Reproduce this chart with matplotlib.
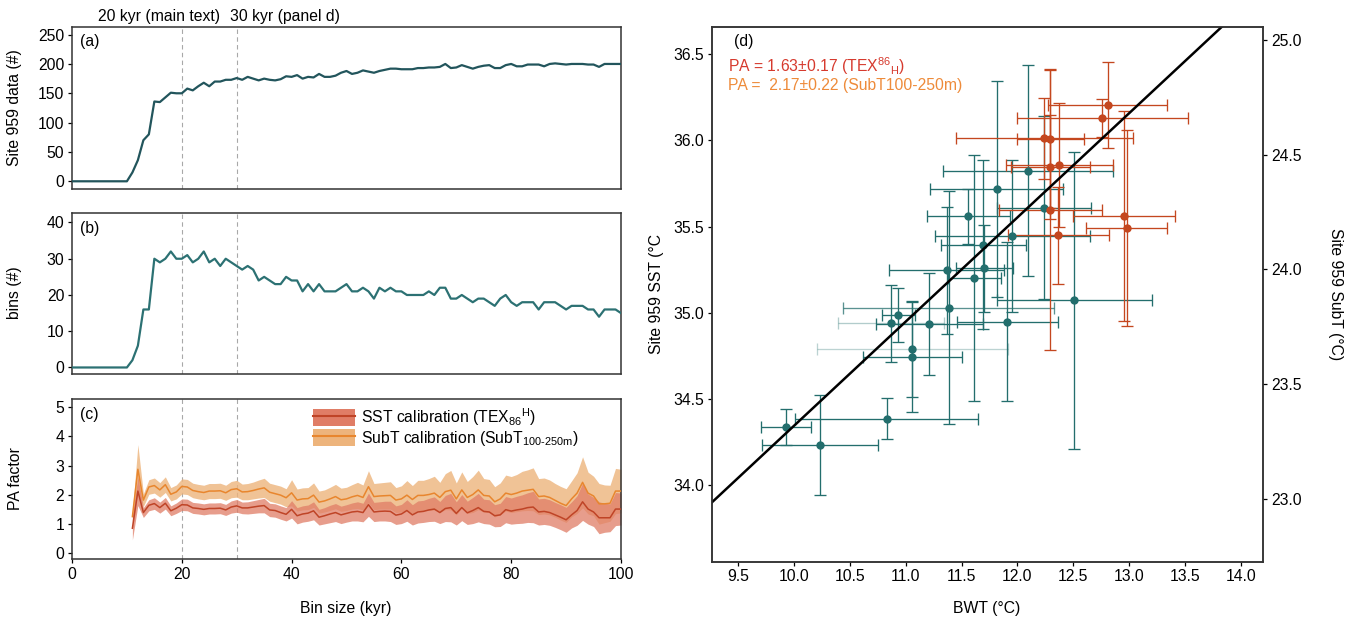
import numpy as np
import matplotlib
matplotlib.use("Agg")
import matplotlib.pyplot as plt
from matplotlib.patches import Patch
from matplotlib.lines import Line2D

plt.rcParams['font.family'] = ['Liberation Sans', 'DejaVu Sans']
plt.rcParams['mathtext.fontset'] = 'custom'
plt.rcParams['mathtext.rm'] = 'Liberation Sans'
plt.rcParams['mathtext.it'] = 'Liberation Sans:italic'
plt.rcParams['mathtext.bf'] = 'Liberation Sans:bold'

# ---------------- data: panels a, b ----------------
bin_size = list(range(0, 101))
site_data = [0, 0, 0, 0, 0, 0, 0, 0, 0, 0, 0,
             15, 36, 70, 80, 136, 135, 143, 151, 150, 150,
             158, 155, 162, 168, 162, 170, 170, 173, 173, 176,
             173, 178, 175, 172, 175, 173, 172, 174, 179, 178,
             181, 175, 178, 177, 183, 178, 178, 180, 185, 188,
             183, 185, 189, 187, 185, 188, 190, 192, 192, 191,
             191, 191, 193, 193, 194, 194, 195, 200, 193, 194,
             198, 195, 192, 195, 197, 198, 193, 193, 198, 200,
             196, 196, 199, 199, 199, 196, 200, 201, 200, 199,
             200, 200, 200, 199, 199, 195, 200, 200, 200, 200]
bins = [0, 0, 0, 0, 0, 0, 0, 0, 0, 0, 0,
        2, 6, 16, 16, 30, 29, 30, 32, 30, 30,
        31, 29, 30, 32, 29, 30, 28, 30, 29, 28,
        27, 28, 27, 24, 25, 24, 23, 23, 25, 24,
        24, 21, 23, 21, 23, 21, 21, 21, 22, 23,
        21, 21, 22, 21, 19, 22, 21, 22, 21, 21,
        20, 20, 20, 20, 21, 20, 22, 22, 19, 19,
        20, 19, 18, 19, 19, 18, 17, 19, 20, 18,
        17, 18, 18, 18, 16, 18, 18, 18, 17, 16,
        17, 17, 17, 16, 16, 14, 16, 16, 16, 15]

# ---------------- data: panel c ----------------
pa_bin = list(range(11, 101))
subt_mid = [1.24, 2.87, 1.81, 2.26, 2.31, 2.16, 2.34, 2.01, 2.09, 2.28,
            2.26, 2.14, 2.10, 2.07, 2.12, 2.12, 2.13, 2.06, 2.17, 2.20,
            2.09, 2.10, 2.14, 2.19, 2.23, 2.08, 2.03, 1.98, 1.89, 2.06,
            1.81, 1.85, 1.86, 1.98, 1.74, 1.78, 1.85, 1.93, 1.82, 1.85,
            1.92, 1.97, 1.90, 2.27, 1.93, 1.95, 1.96, 1.97, 1.81, 1.85,
            1.98, 1.83, 1.97, 1.97, 2.00, 2.05, 1.90, 2.10, 2.15, 1.85,
            2.16, 1.90, 2.00, 2.16, 1.97, 1.95, 1.75, 1.85, 2.05, 2.00,
            2.05, 2.12, 2.15, 2.18, 1.93, 1.95, 1.90, 1.80, 1.70, 1.62,
            1.85, 2.05, 2.42, 2.05, 1.95, 1.68, 1.68, 1.70, 2.12, 2.12]
subt_hw = [0.15, 0.85, 0.22, 0.25, 0.26, 0.25, 0.27, 0.23, 0.24, 0.26,
           0.26, 0.25, 0.25, 0.25, 0.26, 0.26, 0.26, 0.26, 0.28, 0.29,
           0.27, 0.28, 0.29, 0.31, 0.33, 0.31, 0.31, 0.31, 0.31, 0.45,
           0.38, 0.38, 0.38, 0.42, 0.38, 0.38, 0.40, 0.42, 0.40, 0.40,
           0.42, 0.45, 0.43, 0.55, 0.45, 0.45, 0.46, 0.47, 0.43, 0.45,
           0.50, 0.48, 0.52, 0.52, 0.55, 0.58, 0.52, 0.62, 0.68, 0.55,
           0.62, 0.55, 0.62, 0.68, 0.58, 0.57, 0.52, 0.55, 0.62, 0.62,
           0.64, 0.68, 0.70, 0.74, 0.62, 0.62, 0.60, 0.58, 0.58, 0.58,
           0.62, 0.70, 0.88, 0.72, 0.68, 0.70, 0.65, 0.62, 0.78, 0.75]
sst_mid = [0.84, 2.12, 1.38, 1.63, 1.69, 1.55, 1.70, 1.44, 1.53, 1.65,
           1.64, 1.54, 1.52, 1.49, 1.52, 1.52, 1.53, 1.47, 1.57, 1.61,
           1.54, 1.54, 1.57, 1.60, 1.62, 1.47, 1.45, 1.38, 1.32, 1.49,
           1.27, 1.33, 1.36, 1.44, 1.22, 1.27, 1.33, 1.38, 1.30, 1.35,
           1.40, 1.42, 1.38, 1.65, 1.40, 1.42, 1.43, 1.42, 1.29, 1.33,
           1.45, 1.30, 1.40, 1.42, 1.47, 1.50, 1.38, 1.52, 1.55, 1.35,
           1.55, 1.37, 1.45, 1.55, 1.42, 1.40, 1.27, 1.30, 1.48, 1.43,
           1.47, 1.50, 1.55, 1.57, 1.40, 1.42, 1.38, 1.30, 1.22, 1.13,
           1.30, 1.45, 1.75, 1.50, 1.40, 1.20, 1.20, 1.20, 1.50, 1.50]
sst_hw = [0.40, 0.50, 0.17, 0.19, 0.20, 0.19, 0.20, 0.17, 0.18, 0.20,
          0.20, 0.19, 0.19, 0.19, 0.19, 0.19, 0.19, 0.19, 0.21, 0.22,
          0.20, 0.21, 0.22, 0.23, 0.25, 0.23, 0.23, 0.23, 0.23, 0.30,
          0.28, 0.28, 0.28, 0.31, 0.27, 0.28, 0.30, 0.31, 0.30, 0.30,
          0.31, 0.33, 0.32, 0.40, 0.33, 0.33, 0.34, 0.35, 0.32, 0.33,
          0.37, 0.35, 0.38, 0.38, 0.40, 0.42, 0.38, 0.45, 0.49, 0.40,
          0.45, 0.40, 0.45, 0.49, 0.42, 0.42, 0.38, 0.40, 0.45, 0.45,
          0.47, 0.49, 0.51, 0.54, 0.45, 0.45, 0.44, 0.43, 0.43, 0.43,
          0.45, 0.51, 0.64, 0.52, 0.50, 0.55, 0.50, 0.48, 0.57, 0.55]

# ---------------- data: panel d ----------------
teal_bwt = [9.926, 10.236, 10.83, 11.06, 11.06, 10.872, 10.935, 11.21, 11.386, 11.368,
            11.615, 11.705, 11.91, 12.51, 12.096, 11.815, 11.559, 11.696, 11.955, 12.24]
teal_sst = [34.34, 34.235, 34.387, 34.79, 34.746, 34.94, 34.99, 34.936, 35.03, 35.247,
            35.204, 35.258, 34.95, 35.072, 35.825, 35.72, 35.56, 35.394, 35.448, 35.61]
teal_xerr = [0.225, 0.52, 0.82, 0.855, 0.44, 0.474, 0.15, 0.48, 0.944, 0.513,
             0.236, 0.258, 0.45, 0.69, 0.76, 0.594, 0.37, 0.38, 0.69, 0.42]
teal_yerr = [0.105, 0.29, 0.12, 0.28, 0.32, 0.224, 0.157, 0.297, 0.675, 0.367,
             0.714, 0.25, 0.46, 0.86, 0.61, 0.627, 0.16, 0.49, 0.44, 0.53]
teal_xalpha = [1, 1, 1, 0.3, 1, 0.35, 1, 1, 0.75, 1,
               1, 1, 1, 1, 1, 1, 1, 1, 1, 1]

red_bwt = [12.806, 12.761, 12.24, 12.295, 12.295, 12.376, 12.295, 12.95, 12.976, 12.367]
red_sst = [36.206, 36.128, 36.013, 36.01, 35.845, 35.86, 35.598, 35.561, 35.493, 35.45]
red_xerr = [0.53, 0.767, 0.79, 0.30, 0.35, 0.48, 0.46, 0.457, 0.364, 0.45]
red_yerr = [0.2475, 0.11, 0.235, 0.40, 0.30, 0.359, 0.816, 0.61, 0.57, 0.28]

fit_intercept = 28.30
fit_slope = 0.6045

# ---------------- figure ----------------
W, H = 1357, 624
fig = plt.figure(figsize=(W / 100, H / 100), dpi=100)

def px_axes(l, t, r, b):
    return fig.add_axes([l / W, 1 - b / H, (r - l) / W, (b - t) / H])

FS = 11.3
spine_c = '#333333'

def style(ax):
    for s in ax.spines.values():
        s.set_color(spine_c)
        s.set_linewidth(1.1)
    ax.tick_params(direction='out', length=3, width=0.9, labelsize=FS, color='black', pad=2.5)

dash_kw = dict(color='#A8A8A8', lw=0.8, ls=(0, (4, 3)), zorder=0)

ax_a = px_axes(72, 27, 621, 189.5)
ax_b = px_axes(72, 212.7, 621, 374)
ax_c = px_axes(72, 399, 621, 559.3)
ax_d = px_axes(711.7, 26.7, 1263.3, 561.7)

# panel a
ax_a.plot(bin_size, site_data, color='#22555C', lw=1.6, zorder=3)
ax_a.set_xlim(0, 100)
ax_a.set_ylim(-14, 263)
ax_a.set_yticks([0, 50, 100, 150, 200, 250])
ax_a.set_xticks([])
for v in (20, 30):
    ax_a.axvline(v, **dash_kw)
style(ax_a)
ax_a.text(0.015, 0.908, '(a)', transform=ax_a.transAxes, fontsize=FS, va='center', ha='left')

# panel b
ax_b.plot(bin_size, bins, color='#2C7173', lw=1.6, zorder=3)
ax_b.set_xlim(0, 100)
ax_b.set_ylim(-1.8, 42.7)
ax_b.set_yticks([0, 10, 20, 30, 40])
ax_b.set_xticks([])
for v in (20, 30):
    ax_b.axvline(v, **dash_kw)
style(ax_b)
ax_b.text(0.015, 0.90, '(b)', transform=ax_b.transAxes, fontsize=FS, va='center', ha='left')

# panel c
sub_mid = np.array(subt_mid); sub_hw = np.array(subt_hw)
ss_mid = np.array(sst_mid); ss_hw = np.array(sst_hw)
c_sub_fill = '#EDB47C'
c_sub_line = '#E8862E'
c_sst_fill = '#E07D66'
c_sst_line = '#BF4427'
ax_c.fill_between(pa_bin, sub_mid - sub_hw, sub_mid + sub_hw, color=c_sub_fill, alpha=0.8, lw=0, zorder=1)
ax_c.fill_between(pa_bin, ss_mid - ss_hw, ss_mid + ss_hw, color=c_sst_fill, alpha=0.75, lw=0, zorder=2)
ax_c.plot(pa_bin, subt_mid, color=c_sub_line, lw=1.1, zorder=3)
ax_c.plot(pa_bin, sst_mid, color=c_sst_line, lw=1.1, zorder=3)
ax_c.set_xlim(0, 100)
ax_c.set_ylim(-0.23, 5.29)
ax_c.set_yticks([0, 1, 2, 3, 4, 5])
ax_c.set_xticks([0, 20, 40, 60, 80, 100])
for v in (20, 30):
    ax_c.axvline(v, **dash_kw)
style(ax_c)
ax_c.text(0.015, 0.906, '(c)', transform=ax_c.transAxes, fontsize=FS, va='center', ha='left')
h1 = (Patch(facecolor=c_sst_fill, edgecolor='none'), Line2D([], [], color=c_sst_line, lw=1.5))
h2 = (Patch(facecolor=c_sub_fill, edgecolor='none'), Line2D([], [], color=c_sub_line, lw=1.5))
ax_c.legend([h1, h2],
            [r'SST calibration (TEX$_{86}$$^{\rm H}$)', r'SubT calibration (SubT$_{\rm 100‐250m}$)'],
            loc='upper left', bbox_to_anchor=(0.439, 0.955), frameon=False, fontsize=FS,
            handlelength=2.7, handleheight=1.3, handletextpad=0.35, labelspacing=0.05,
            borderpad=0, borderaxespad=0)

# panel d
teal = '#236E6D'
red = '#C4471F'
eb_kw = dict(fmt='none', elinewidth=0.95, capsize=4, capthick=0.95)
for i in range(len(teal_bwt)):
    ax_d.errorbar(teal_bwt[i], teal_sst[i], yerr=teal_yerr[i], ecolor=teal, zorder=2, **eb_kw)
    ax_d.errorbar(teal_bwt[i], teal_sst[i], xerr=teal_xerr[i], ecolor=teal,
                  alpha=teal_xalpha[i], zorder=2, **eb_kw)
ax_d.scatter(teal_bwt, teal_sst, s=36, color=teal, zorder=4, linewidths=0)
for i in range(len(red_bwt)):
    ax_d.errorbar(red_bwt[i], red_sst[i], yerr=red_yerr[i], xerr=red_xerr[i], ecolor=red, zorder=3, **eb_kw)
ax_d.scatter(red_bwt, red_sst, s=36, color=red, zorder=5, linewidths=0)
xl = np.array([9.0, 14.5])
ax_d.plot(xl, fit_intercept + fit_slope * xl, color='black', lw=1.8, zorder=6)
ax_d.set_xlim(9.264, 14.20)
ax_d.set_ylim(33.557, 36.66)
ax_d.set_xticks(np.arange(9.5, 14.01, 0.5))
ax_d.set_yticks(np.arange(34.0, 36.51, 0.5))
ax_d.xaxis.set_major_formatter(matplotlib.ticker.FormatStrFormatter('%.1f'))
ax_d.yaxis.set_major_formatter(matplotlib.ticker.FormatStrFormatter('%.1f'))
style(ax_d)
ax_d2 = ax_d.twinx()
ax_d2.set_ylim(22.725, 25.058)
ax_d2.set_yticks(np.arange(23.0, 25.01, 0.5))
ax_d2.yaxis.set_major_formatter(matplotlib.ticker.FormatStrFormatter('%.1f'))
style(ax_d2)
ax_d.text(0.040, 0.972, '(d)', transform=ax_d.transAxes, fontsize=FS, va='center', ha='left')
ax_d.text(0.029, 0.9265, r'PA = 1.63±0.17 (TEX$^{86}$$_{\rm H}$)', transform=ax_d.transAxes,
          fontsize=FS, va='center', ha='left', color='#D63A2E')
ax_d.text(0.029, 0.891, 'PA =  2.17±0.22 (SubT100-250m)', transform=ax_d.transAxes,
          fontsize=FS, va='center', ha='left', color='#EE8B3A')

# labels
fig.text(15 / W, 1 - 108 / H, 'Site 959 data (#)', rotation=90, ha='center', va='center', fontsize=FS)
fig.text(15 / W, 1 - 293 / H, 'bins (#)', rotation=90, ha='center', va='center', fontsize=FS)
fig.text(15 / W, 1 - 479 / H, 'PA factor', rotation=90, ha='center', va='center', fontsize=FS)
fig.text(346 / W, 1 - 608 / H, 'Bin size (kyr)', ha='center', va='center', fontsize=FS)
fig.text(987 / W, 1 - 608 / H, 'BWT (°C)', ha='center', va='center', fontsize=FS)
fig.text(657 / W, 1 - 294 / H, 'Site 959 SST (°C', rotation=90, ha='center', va='center', fontsize=FS)
fig.text(1335 / W, 1 - 294 / H, 'Site 959 SubT (°C)', rotation=270, ha='center', va='center', fontsize=FS)
fig.text(98 / W, 1 - 16 / H, '20 kyr (main text)', ha='left', va='center', fontsize=FS)
fig.text(230 / W, 1 - 16 / H, '30 kyr (panel d)', ha='left', va='center', fontsize=FS)

fig.savefig('out.png', dpi=100)
